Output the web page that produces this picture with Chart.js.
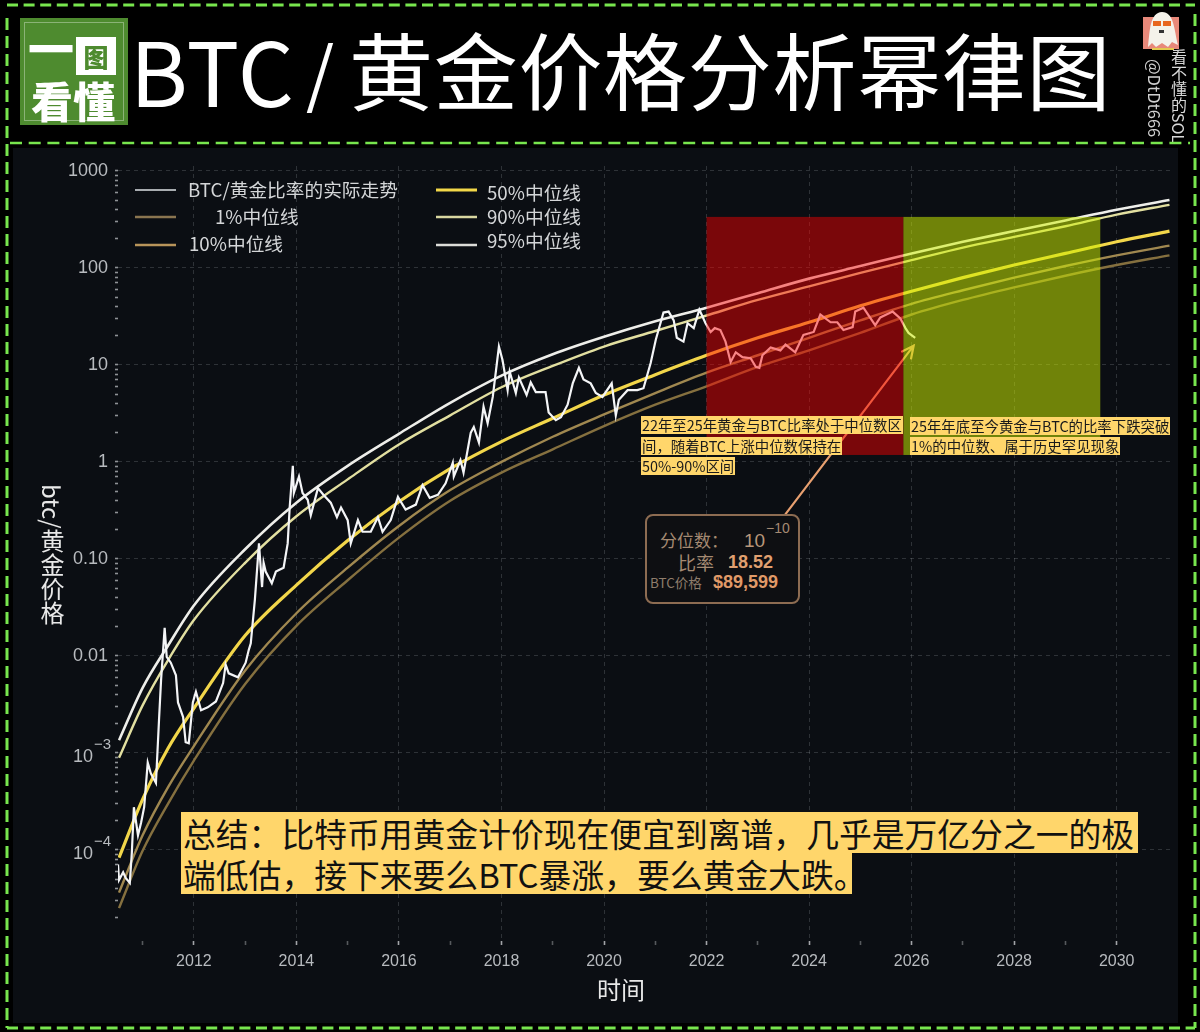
<!DOCTYPE html>
<html>
<head>
<meta charset="utf-8">
<title>BTC / 黄金价格分析幂律图</title>
<script src="https://cdn.jsdelivr.net/npm/chart.js@4"></script>
<style>
html, body { margin: 0; padding: 0; background: #000; width: 1200px; height: 1032px; overflow: hidden; }
body { position: relative; font-family: "Noto Sans CJK SC", sans-serif; }
.abs { position: absolute; white-space: nowrap; }
#panel { left: 13px; top: 148px; width: 1165px; height: 875px; background: #0b0e13; }
canvas { position: absolute; left: 0; top: 0; }
.title { color: #fff; line-height: 130px; }
#logo { left: 20px; top: 18px; width: 108px; height: 107px; background: #4e8b2f; }
#logo i { position: absolute; left: 4px; top: 4px; right: 4px; bottom: 4px; border: 1px solid rgba(255,255,255,.35); }
#logo b { position: absolute; color: #fff; font-weight: 900; white-space: nowrap; }
#logo .one { left: 8px; top: -2px; font-size: 46px; line-height: 60px; }
#logo .tu { left: 56px; top: 19px; width: 40px; height: 38px; background: #fff; color: #4e8b2f; font-size: 25px; line-height: 38px; text-align: center; }
#logo .dong { left: 11px; top: 57px; font-size: 42px; line-height: 50px; }
.vert { writing-mode: vertical-rl; }
.note { background: #ffd66b; color: #1a1a1a; font-size: 14.4px; line-height: 18px; padding: 0 1px; }
.sum { background: #ffd66b; color: #111; font-size: 32.8px; line-height: 41px; padding: 0 2px; overflow: hidden; }
#info { left: 645px; top: 514px; width: 151px; height: 86px; border: 2px solid #8d6c52; border-radius: 8px; background: #0e0f12; }
.i { position: absolute; white-space: nowrap; line-height: 20px; }
.num { font-family: "Liberation Sans", sans-serif; }
</style>
</head>
<body>
<div id="panel" class="abs"></div>
<canvas id="chart_canvas" width="1200" height="1032"></canvas>

<div id="logo" class="abs"><i></i><b class="one">一</b><b class="tu">图</b><b class="dong">看懂</b></div>
<div class="abs title" style="left:130px;top:4px;font-size:88px;letter-spacing:1px">BTC</div>
<div class="abs title" style="left:306px;top:4px;font-size:72px">/</div>
<div class="abs title" style="left:349px;top:3px;font-size:84px;letter-spacing:0.7px">黄金价格分析幂律图</div>

<svg class="abs" style="left:1142px;top:9px" width="44" height="42" viewBox="0 0 44 42">
  <rect x="1" y="8" width="36" height="32" fill="#e8897a"/>
  <path d="M6 38 C8 20 8 4 20 3 C32 3 32 20 36 36 L30 33 L26 38 L20 34 L14 38 L10 34 Z" fill="#f4f2ea"/>
  <rect x="11" y="12" width="8" height="5" fill="#e8661e"/>
  <rect x="21" y="12" width="8" height="5" fill="#e8661e"/>
  <rect x="17" y="21" width="5" height="3" fill="#333"/>
  <rect x="10" y="39" width="22" height="2" fill="#e2c94e"/>
</svg>
<div class="abs vert" style="left:1169px;top:49px;color:#d8d8d8;font-size:16px;line-height:20px">看不懂的SOL</div>
<div class="abs vert" style="left:1145px;top:59px;color:#d0d0d0;font-size:16.5px;line-height:20px">@DtDt666</div>

<div class="abs vert" style="left:38px;top:484px;color:#e8e8e8;font-size:24px;line-height:28px">btc/黄金价格</div>
<div class="abs" style="left:597px;top:972px;color:#e8e8e8;font-size:24px;line-height:34px">时间</div>

<div class="abs note" style="left:641px;top:416px">22年至25年黄金与BTC比率处于中位数区</div>
<div class="abs note" style="left:641px;top:437px">间，随着BTC上涨中位数保持在</div>
<div class="abs note" style="left:641px;top:457px">50%-90%区间</div>
<div class="abs note" style="left:910px;top:417px">25年年底至今黄金与BTC的比率下跌突破</div>
<div class="abs note" style="left:910px;top:437px">1%的中位数、属于历史罕见现象</div>

<div class="abs sum" style="left:181px;top:812px;width:953px">总结：比特币用黄金计价现在便宜到离谱，几乎是万亿分之一的极</div>
<div class="abs sum" style="left:181px;top:853px;width:667px">端低估，接下来要么BTC暴涨，要么黄金大跌。</div>

<div id="info" class="abs">
  <span class="i" style="left:13px;top:14px;color:#a58a72;font-size:17px">分位数：</span>
  <span class="i num" style="left:97px;top:15px;color:#b8977a;font-size:19px">10</span>
  <span class="i num" style="left:119px;top:2px;color:#a58a72;font-size:14px">−10</span>
  <span class="i" style="left:31px;top:36px;color:#a58a72;font-size:18px">比率</span>
  <span class="i num" style="left:81px;top:36px;color:#e0a070;font-size:18px;font-weight:bold">18.52</span>
  <span class="i" style="left:3px;top:56px;color:#8f7d6c;font-size:13.5px">BTC价格</span>
  <span class="i num" style="left:66px;top:56px;color:#e09a68;font-size:18px;font-weight:bold">$89,599</span>
</div>

<svg class="abs" style="left:0;top:0;pointer-events:none" width="1200" height="1032" fill="none" stroke="#78e64e">
  <path d="M7 5H1195" stroke-width="3" stroke-dasharray="11 5.6"/>
  <path d="M7 1028H1195" stroke-width="3" stroke-dasharray="11 5.6"/>
  <path d="M7 18V1028" stroke-width="3" stroke-dasharray="12 6"/>
  <path d="M1195 14V1028" stroke-width="3" stroke-dasharray="12 6"/>
  <path d="M10 143H1190" stroke-width="2.5" stroke-dasharray="12 6.7"/>
</svg>

<script>
const lineYears = [2010.54, 2011, 2011.5, 2012, 2013, 2014, 2015, 2016, 2017, 2018, 2019, 2020, 2021, 2022, 2023, 2024, 2025, 2026, 2027, 2028, 2029, 2030, 2031.03];
const q95 = [-2.87, -2.33, -1.89, -1.48, -0.90, -0.42, -0.04, 0.29, 0.61, 0.89, 1.11, 1.29, 1.45, 1.59, 1.74, 1.89, 2.02, 2.15, 2.27, 2.38, 2.49, 2.60, 2.70];
const q90 = [-3.05, -2.51, -2.04, -1.63, -1.04, -0.56, -0.18, 0.18, 0.48, 0.77, 0.99, 1.19, 1.35, 1.51, 1.67, 1.81, 1.95, 2.08, 2.21, 2.32, 2.43, 2.55, 2.65];
const q50 = [-4.08, -3.48, -2.95, -2.54, -1.79, -1.27, -0.81, -0.41, -0.07, 0.21, 0.45, 0.69, 0.90, 1.10, 1.28, 1.44, 1.61, 1.76, 1.90, 2.03, 2.15, 2.27, 2.38];
const q10 = [-4.44, -3.85, -3.35, -2.93, -2.15, -1.56, -1.09, -0.66, -0.29, 0, 0.26, 0.49, 0.71, 0.92, 1.10, 1.28, 1.46, 1.63, 1.77, 1.90, 2.02, 2.13, 2.23];
const q01 = [-4.60, -4.01, -3.52, -3.08, -2.29, -1.69, -1.22, -0.78, -0.40, -0.11, 0.13, 0.37, 0.59, 0.78, 0.98, 1.15, 1.33, 1.52, 1.67, 1.80, 1.92, 2.03, 2.13];

const ratioYears = [2010.52, 2010.54, 2010.62, 2010.67, 2010.75, 2010.79, 2010.83, 2010.91, 2010.97, 2011.03, 2011.10, 2011.16, 2011.26, 2011.32, 2011.36, 2011.43, 2011.47, 2011.55, 2011.65, 2011.69, 2011.79, 2011.84, 2011.90, 2011.98, 2012.04, 2012.14, 2012.27, 2012.43, 2012.57, 2012.62, 2012.68, 2012.86, 2013.01, 2013.07, 2013.11, 2013.19, 2013.27, 2013.33, 2013.36, 2013.40, 2013.52, 2013.60, 2013.75, 2013.83, 2013.87, 2013.93, 2013.95, 2014.05, 2014.12, 2014.22, 2014.28, 2014.42, 2014.53, 2014.67, 2014.79, 2014.87, 2015.00, 2015.06, 2015.20, 2015.29, 2015.45, 2015.59, 2015.68, 2015.84, 2015.98, 2016.13, 2016.33, 2016.46, 2016.60, 2016.76, 2016.91, 2017.05, 2017.07, 2017.20, 2017.26, 2017.40, 2017.46, 2017.56, 2017.65, 2017.73, 2017.83, 2017.95, 2018.02, 2018.12, 2018.16, 2018.28, 2018.34, 2018.49, 2018.57, 2018.67, 2018.86, 2018.92, 2019.06, 2019.16, 2019.29, 2019.39, 2019.51, 2019.60, 2019.74, 2019.84, 2019.97, 2020.15, 2020.23, 2020.29, 2020.46, 2020.65, 2020.77, 2020.91, 2021.01, 2021.16, 2021.26, 2021.36, 2021.42, 2021.55, 2021.63, 2021.75, 2021.86, 2021.98, 2022.08, 2022.16, 2022.27, 2022.37, 2022.47, 2022.57, 2022.70, 2022.86, 2022.96, 2023.03, 2023.09, 2023.25, 2023.44, 2023.54, 2023.73, 2023.89, 2024.09, 2024.22, 2024.42, 2024.55, 2024.67, 2024.85, 2024.90, 2025.06, 2025.20, 2025.29, 2025.39, 2025.63, 2025.78, 2025.88, 2025.94, 2026.07];
const ratioLog = [-4.15, -4.31, -4.23, -4.29, -4.34, -4.03, -3.56, -3.85, -3.72, -3.56, -3.10, -3.21, -3.31, -2.66, -2.25, -1.71, -2.01, -2.07, -2.20, -2.48, -2.63, -2.89, -2.90, -2.48, -2.37, -2.56, -2.53, -2.47, -2.28, -2.09, -2.18, -2.22, -2.07, -1.94, -1.87, -1.42, -0.84, -1.29, -1.04, -1.13, -1.25, -1.13, -1.09, -0.84, -0.46, -0.04, -0.32, -0.15, -0.32, -0.39, -0.55, -0.27, -0.34, -0.42, -0.57, -0.47, -0.60, -0.84, -0.60, -0.72, -0.72, -0.57, -0.72, -0.60, -0.36, -0.49, -0.44, -0.24, -0.37, -0.34, -0.22, -0.01, -0.15, 0.02, -0.11, 0.30, 0.36, 0.20, 0.57, 0.40, 0.67, 1.19, 1.05, 0.74, 0.93, 0.71, 0.87, 0.69, 0.82, 0.72, 0.72, 0.51, 0.43, 0.46, 0.59, 0.81, 0.97, 0.85, 0.81, 0.71, 0.67, 0.81, 0.48, 0.64, 0.74, 0.74, 0.76, 1.02, 1.26, 1.54, 1.55, 1.46, 1.28, 1.24, 1.43, 1.38, 1.57, 1.43, 1.34, 1.38, 1.36, 1.24, 1.03, 1.13, 1.08, 1.07, 0.98, 0.97, 1.10, 1.18, 1.15, 1.21, 1.13, 1.31, 1.34, 1.52, 1.44, 1.44, 1.36, 1.39, 1.55, 1.59, 1.48, 1.41, 1.49, 1.55, 1.48, 1.38, 1.33, 1.28];

const seriesLabels = ['BTC/黄金比率的实际走势', '1%中位线', '10%中位线', '50%中位线', '90%中位线', '95%中位线'];
const seriesColors = ['#f4f5f7', '#85703f', '#a08850', '#f2d64a', '#e2dfa0', '#eeeeea'];
const legendColors = ['#a8acb0', '#8a7550', '#b8945a', '#f3d849', '#d8d6a0', '#dcdcd8'];
const seriesWidths = [2.2, 2.4, 2.4, 3.2, 2.4, 2.6];

const yearTicks = [2011, 2012, 2013, 2014, 2015, 2016, 2017, 2018, 2019, 2020, 2021, 2022, 2023, 2024, 2025, 2026, 2027, 2028, 2029, 2030];
const decades = [1e-5, 1e-4, 1e-3, 0.01, 0.1, 1, 10, 100, 1000];
const decadeLabels = ['', '', '', '0.01', '0.10', '1', '10', '100', '1000'];
const powerTicks = [1e-4, 1e-3];
const powerLabels = ['−4', '−3'];
const minorSteps = [2, 3, 4, 5, 6, 7, 8, 9];

const redBand = [2022, 2025.84];
const greenBand = [2025.84, 2029.68];
const bandRange = [1.18, 336];
const arrowFrom = [2023.54, 0.29];
const arrowTo = [2026.04, 15.8];

// legend spots, col 1 then col 2: line x, text x, line y, text y
const legendSpots = [[135, 188, 190, 190], [135, 215, 217, 217], [135, 189, 245, 244], [436, 487, 190, 193], [436, 487, 217, 217], [436, 487, 245, 241]];

const toPoints = (xs, logs) => xs.map((x, i) => ({ x: x, y: Math.pow(10, logs[i]) }));
const lineData = [toPoints(ratioYears, ratioLog), toPoints(lineYears, q01), toPoints(lineYears, q10), toPoints(lineYears, q50), toPoints(lineYears, q90), toPoints(lineYears, q95)];

const datasets = lineData.map((pts, i) => ({
    label: seriesLabels[i],
    data: pts,
    borderColor: seriesColors[i],
    borderWidth: seriesWidths[i],
    pointRadius: 0,
    cubicInterpolationMode: i == 0 ? 'default' : 'monotone',
    tension: 0
}));

const isDecade = v => Math.abs(Math.log10(v) - Math.round(Math.log10(v))) < 1e-6;

const yTickValues = [];
for (const d of decades) {
    yTickValues.push(d);
    if (d < 1000) for (const m of minorSteps) yTickValues.push(d * m);
}

const overlayPlugin = {
    id: 'overlay',
    afterDatasetsDraw(chart) {
        const c = chart.ctx, x = chart.scales.x, y = chart.scales.y;
        // arrow goes under the bands so it takes their tint, same as the lines
        const x0 = x.getPixelForValue(arrowFrom[0]), y0 = y.getPixelForValue(arrowFrom[1]);
        const x1 = x.getPixelForValue(arrowTo[0]), y1 = y.getPixelForValue(arrowTo[1]);
        const a = Math.atan2(y1 - y0, x1 - x0);
        c.save();
        c.strokeStyle = '#e8a070';
        c.lineWidth = 2.2;
        c.lineCap = 'round';
        c.beginPath();
        c.moveTo(x0, y0);
        c.lineTo(x1, y1);
        c.moveTo(x1 - 13 * Math.cos(a - 0.45), y1 - 13 * Math.sin(a - 0.45));
        c.lineTo(x1, y1);
        c.lineTo(x1 - 13 * Math.cos(a + 0.45), y1 - 13 * Math.sin(a + 0.45));
        c.stroke();

        const top = y.getPixelForValue(bandRange[1]), bottom = y.getPixelForValue(bandRange[0]);
        c.fillStyle = 'rgba(255, 0, 0, 0.46)';
        let l = x.getPixelForValue(redBand[0]), r = x.getPixelForValue(redBand[1]);
        c.fillRect(l, top, r - l, bottom - top);
        c.fillStyle = 'rgba(205, 240, 0, 0.52)';
        l = x.getPixelForValue(greenBand[0]);
        r = x.getPixelForValue(greenBand[1]);
        c.fillRect(l, top, r - l, bottom - top);
        c.restore();
    },
    afterDraw(chart) {
        const c = chart.ctx, y = chart.scales.y;
        c.save();
        c.font = '18.7px "Noto Sans CJK SC"';
        c.textBaseline = 'middle';
        chart.data.datasets.forEach((ds, i) => {
            const s = legendSpots[i];
            c.strokeStyle = legendColors[i];
            c.lineWidth = ds.borderWidth;
            c.beginPath();
            c.moveTo(s[0], s[2]);
            c.lineTo(s[0] + 41, s[2]);
            c.stroke();
            c.fillStyle = '#d4d6d8';
            c.fillText(ds.label, s[1], s[3]);
        });
        // 10 with the raised power, ticks can only give one size of text
        c.fillStyle = '#b8bbbf';
        powerTicks.forEach((v, i) => {
            const py = y.getPixelForValue(v);
            c.font = '18px "Liberation Sans"';
            c.textAlign = 'right';
            c.fillText('10', 93, py + 4);
            c.font = '15px "Liberation Sans"';
            c.textAlign = 'left';
            c.fillText(powerLabels[i], 94, py - 8);
        });
        c.restore();
    }
};

const ctx = document.getElementById('chart_canvas').getContext('2d');
const myChart = new Chart(ctx, {
    type: 'line',
    data: { datasets: datasets },
    plugins: [overlayPlugin],
    options: {
        responsive: false,
        animation: false,
        layout: { padding: { left: 0, top: 166, right: 30, bottom: 0 } },
        plugins: { legend: { display: false }, tooltip: { enabled: false } },
        scales: {
            x: {
                type: 'linear',
                min: 2010.52,
                max: 2031.04,
                afterBuildTicks: s => { s.ticks = yearTicks.map(v => ({ value: v })); },
                afterFit: s => { s.height = 91; },
                border: { display: false, dash: [4, 4] },
                grid: {
                    color: c => c.tick && c.tick.value % 2 == 0 ? 'rgba(190,195,200,0.2)' : 'rgba(0,0,0,0)',
                    tickColor: c => c.tick && c.tick.value % 2 == 0 ? 'rgba(200,203,206,0.8)' : 'rgba(200,203,206,0.4)',
                    tickLength: 4,
                    tickWidth: 1.6
                },
                ticks: {
                    autoSkip: false,
                    maxRotation: 0,
                    padding: 7,
                    color: '#b8bbbf',
                    font: { family: '"Liberation Sans"', size: 16 },
                    callback: v => v % 2 == 0 ? String(v) : ''
                }
            },
            y: {
                type: 'logarithmic',
                min: 1.15e-5,
                max: 1125,
                afterBuildTicks: s => { s.ticks = yTickValues.map(v => ({ value: v })).filter(t => t.value >= s.min); },
                afterFit: s => { s.width = 118; },
                border: { display: false, dash: [4, 4] },
                grid: {
                    color: c => c.tick && isDecade(c.tick.value) ? 'rgba(190,195,200,0.2)' : 'rgba(0,0,0,0)',
                    tickColor: 'rgba(200,203,206,0.7)',
                    tickLength: 3,
                    tickWidth: 1.6
                },
                ticks: {
                    autoSkip: false,
                    padding: 7,
                    color: '#b8bbbf',
                    font: { family: '"Liberation Sans"', size: 18 },
                    callback: v => {
                        const i = decades.findIndex(d => Math.abs(d / v - 1) < 1e-6);
                        return i >= 0 ? decadeLabels[i] : '';
                    }
                }
            }
        }
    }
});
</script>
</body>
</html>
